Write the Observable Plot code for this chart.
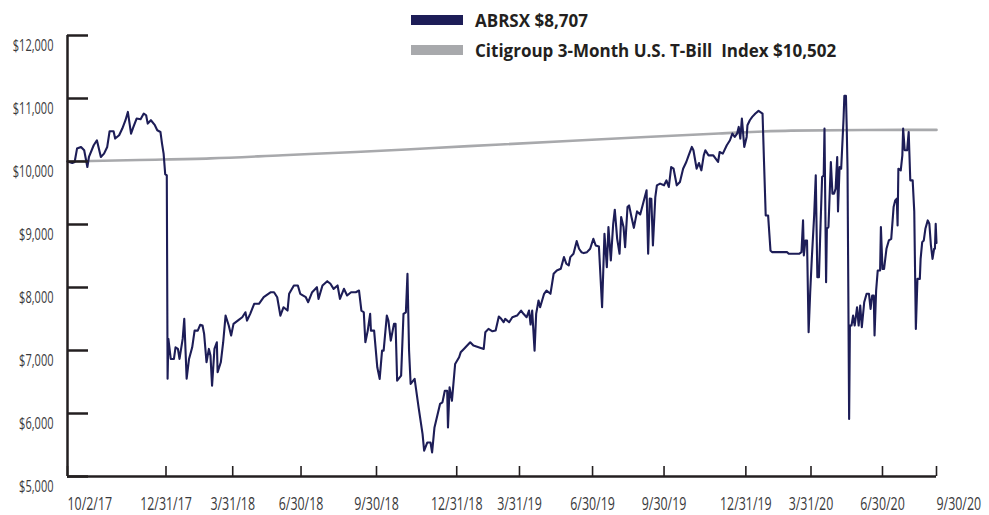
<!DOCTYPE html>
<html>
<head>
<meta charset="utf-8">
<script src="https://cdn.jsdelivr.net/npm/d3@7"></script>
<script src="https://cdn.jsdelivr.net/npm/@observablehq/plot@0.6"></script>
<style>
  html, body { margin: 0; padding: 0; background: #ffffff; }
  #wrap { position: relative; width: 989px; height: 515px; overflow: hidden; }
  #chart { position: absolute; left: 0; top: 0; }
  .legend-item { position: absolute; left: 411px; height: 20px; white-space: pre;
    font-family: "Open Sans", sans-serif; font-weight: 700; font-size: 17px; line-height: 17px; color: #231f20; }
  .legend-item .sw { position: absolute; left: 0; width: 52px; height: 10px; }
  .legend-item .lbl { position: absolute; left: 64px; top: 0; white-space: pre; }
</style>
</head>
<body>
<div id="wrap">
  <div id="chart"></div>
  <div id="legend"></div>
</div>
<script>
// ---------------- data ----------------
const seriesNames = ["ABRSX $8,707", "Citigroup 3-Month U.S. T-Bill  Index $10,502"];
const seriesColors = ["#1d1d57", "#a8a9ac"];

const abrsxDates = [
  "2017-10-02","2017-10-08","2017-10-11","2017-10-14","2017-10-19","2017-10-23","2017-10-27","2017-10-29",
  "2017-11-04","2017-11-08","2017-11-13","2017-11-17","2017-11-21","2017-11-24","2017-11-29","2017-12-01",
  "2017-12-06","2017-12-10","2017-12-14","2017-12-17","2017-12-21","2017-12-24","2017-12-28","2018-01-02",
  "2018-01-06","2018-01-09","2018-01-11","2018-01-15","2018-01-20","2018-01-23","2018-01-27","2018-01-29",
  "2018-01-31","2018-02-02","2018-02-04","2018-02-05","2018-02-06","2018-02-09","2018-02-13","2018-02-15",
  "2018-02-18","2018-02-20","2018-02-24","2018-02-26","2018-03-01","2018-03-04","2018-03-08","2018-03-11",
  "2018-03-15","2018-03-18","2018-03-21","2018-03-23","2018-03-26","2018-03-29","2018-03-31","2018-04-02",
  "2018-04-05","2018-04-08","2018-04-09","2018-04-13","2018-04-16","2018-04-19","2018-04-23","2018-04-26",
  "2018-04-29","2018-05-06","2018-05-10","2018-05-14","2018-05-16","2018-05-20","2018-05-25","2018-05-31",
  "2018-06-06","2018-06-15","2018-06-19","2018-06-23","2018-06-27","2018-07-01","2018-07-06","2018-07-08",
  "2018-07-14","2018-07-19","2018-07-22","2018-07-29","2018-08-01","2018-08-06","2018-08-12","2018-08-14",
  "2018-08-19","2018-08-25","2018-08-29","2018-09-02","2018-09-07","2018-09-10","2018-09-15","2018-09-19",
  "2018-09-24","2018-09-30","2018-10-04","2018-10-07","2018-10-10","2018-10-12","2018-10-15","2018-10-18",
  "2018-10-19","2018-10-23","2018-10-27","2018-10-30","2018-11-02","2018-11-04","2018-11-08","2018-11-10",
  "2018-11-13","2018-11-17","2018-11-19","2018-11-21","2018-11-26","2018-11-29","2018-12-02","2018-12-04",
  "2018-12-06","2018-12-08","2018-12-13","2018-12-18","2018-12-23","2018-12-25","2018-12-29","2019-01-02",
  "2019-01-04","2019-01-07","2019-01-14","2019-01-17","2019-01-20","2019-01-23","2019-01-24","2019-01-26",
  "2019-01-29","2019-02-02","2019-02-07","2019-02-09","2019-02-13","2019-02-21","2019-02-25","2019-03-10",
  "2019-03-12","2019-03-16","2019-03-21","2019-03-25","2019-03-29","2019-04-01","2019-04-04","2019-04-06",
  "2019-04-11","2019-04-15","2019-04-21","2019-04-26","2019-04-29","2019-05-03","2019-05-06","2019-05-08",
  "2019-05-10","2019-05-13","2019-05-15","2019-05-18","2019-05-20","2019-05-25","2019-05-28","2019-06-02",
  "2019-06-06","2019-06-10","2019-06-15","2019-06-19","2019-06-22","2019-06-25","2019-06-27","2019-07-01",
  "2019-07-05","2019-07-08","2019-07-11","2019-07-14","2019-07-18","2019-07-22","2019-07-26","2019-07-29",
  "2019-08-02","2019-08-06","2019-08-09","2019-08-12","2019-08-14","2019-08-17","2019-08-20","2019-08-22",
  "2019-08-25","2019-08-28","2019-08-30","2019-09-02","2019-09-04","2019-09-07","2019-09-09","2019-09-12",
  "2019-09-15","2019-09-19","2019-09-23","2019-10-01","2019-10-03","2019-10-05","2019-10-07","2019-10-09",
  "2019-10-12","2019-10-14","2019-10-18","2019-10-23","2019-10-26","2019-10-29","2019-11-01","2019-11-04",
  "2019-11-08","2019-11-12","2019-11-16","2019-11-20","2019-11-23","2019-11-27","2019-11-29","2019-12-03",
  "2019-12-06","2019-12-09","2019-12-12","2019-12-14","2019-12-18","2019-12-24","2019-12-27","2019-12-30",
  "2020-01-01","2020-01-05","2020-01-10","2020-01-14","2020-01-17","2020-01-20","2020-01-23","2020-01-25",
  "2020-01-27","2020-01-29","2020-02-01","2020-02-04","2020-02-05","2020-02-08","2020-02-11","2020-02-15",
  "2020-02-19","2020-02-24","2020-02-26","2020-02-28","2020-03-02","2020-03-05","2020-03-07","2020-03-26",
  "2020-03-28","2020-04-10","2020-04-13","2020-04-15","2020-04-16","2020-04-18","2020-04-20","2020-04-22",
  "2020-04-24","2020-04-26","2020-04-29","2020-05-01","2020-05-03","2020-05-05","2020-05-07","2020-05-09",
  "2020-05-11","2020-05-12","2020-05-14","2020-05-15","2020-05-17","2020-05-20","2020-05-22","2020-05-24",
  "2020-05-26","2020-05-28","2020-05-29","2020-05-31","2020-06-02","2020-06-05","2020-06-06","2020-06-08",
  "2020-06-09","2020-06-10","2020-06-12","2020-06-13","2020-06-15","2020-06-17","2020-06-19","2020-06-22",
  "2020-06-24","2020-06-26","2020-06-28","2020-07-01","2020-07-04","2020-07-07","2020-07-09","2020-07-11",
  "2020-07-13","2020-07-14","2020-07-16","2020-07-18","2020-07-21","2020-07-22","2020-07-24","2020-07-26",
  "2020-07-29","2020-08-01","2020-08-04","2020-08-07","2020-08-09","2020-08-11","2020-08-12","2020-08-13",
  "2020-08-16","2020-08-18","2020-08-19","2020-08-21","2020-08-24","2020-08-26","2020-08-28","2020-08-31",
  "2020-09-02","2020-09-04","2020-09-06","2020-09-09","2020-09-10","2020-09-12","2020-09-14","2020-09-16",
  "2020-09-19","2020-09-21","2020-09-23","2020-09-25","2020-09-27","2020-09-28","2020-09-29","2020-09-30"
];
const abrsxValues = [
  10000, 9976, 9992,10205,10231,10178, 9913,10072,
  10258,10337,10072,10125,10231,10480,10480,10364,
  10417,10523,10655,10787,10443,10549,10682,10671,
  10761,10734,10602,10655,10576,10496,10469,10284,
  10125, 9800, 9780, 6553, 7184, 6866, 6866, 7051,
   7025, 6866, 7184, 7502, 6553, 6866, 7051, 7316,
   7316, 7407, 7396, 7264, 6813, 7025, 6919, 6442,
   7025, 7131, 6654, 6813, 7131, 7554, 7396, 7237,
   7423, 7490, 7528, 7607, 7475, 7582, 7741, 7741,
   7846, 7925, 7925, 7846, 7554, 7687, 7634, 7900,
   8032, 8032, 7900, 7846, 7767, 7925, 8005, 7820,
   8032, 8100, 8059, 7979, 8032, 7820, 7979, 7873,
   7925, 7925, 7952, 7634, 7607, 7131, 7316, 7582,
   7316, 7316, 6733, 6549, 6998, 6998, 7554, 7475,
   7157, 7423, 7423, 6521, 6601, 7582, 7607, 8218,
   6998, 6469, 6549, 6097, 5674, 5409, 5540, 5540,
   5382, 5779, 6151, 6177, 6362, 6362, 5779, 6415,
   6203, 6786, 6892, 6971, 7025, 7131, 7078, 7025,
   7289, 7343, 7305, 7316, 7539, 7502, 7449, 7502,
   7449, 7528, 7554, 7634, 7582, 7528, 7634, 7412,
   7634, 6998, 7582, 7793, 7687, 7900, 7952, 7900,
   8218, 8270, 8297, 8482, 8377, 8350, 8482, 8535,
   8736, 8615, 8561, 8546, 8561, 8615, 8773, 8667,
   8651, 7687, 8853, 8323, 8959, 8429, 9012, 9235,
   8773, 8535, 9118, 8959, 8641, 9277, 9303, 9118,
   8947, 9208, 9160, 9542, 8535, 9410, 9409, 8667,
   9436, 9622, 9649, 9622, 9701, 9595, 9913, 9886,
   9622, 9675, 9886, 9992,10098,10231,10178, 9886,
   9976, 9860,10098,10178,10098,10098,10045, 9992,
  10151,10125,10258,10337,10443,10390,10443,10549,
  10364,10682,10231,10390,10576,10655,10708,10761,
  10803,10761, 9939, 9144, 9144, 8588, 8561, 8561,
   8535, 8535, 8561, 9065, 8509, 8747, 8747, 7289,
   7925, 8455, 9144, 9780, 8164, 8164, 8985, 9753,
   9780,10523, 8084, 8932, 8959, 9992, 9489, 9489,
   9569,10072, 9208, 9913, 9886,10682,11041,11041,
  10523, 9886, 5912, 7396, 7396, 7554, 7396, 7687,
   7396, 7714, 7369, 7766, 7900, 7900, 7661, 7873,
   7873, 7237, 7952, 8270, 8270, 8959, 8296, 8296,
   8615, 8747, 8773, 9277, 9383, 9410, 8985, 9886,
   9860,10098,10523,10178,10178,10469, 9701, 9701,
   9208, 7343, 8137, 8137, 8455, 8720, 8747, 8932,
   9065, 9012, 8667, 8455, 8615, 8615, 9012, 8707
];

const tbillDates = ["2017-10-02","2017-12-31","2018-03-31","2018-06-30","2018-09-30","2018-12-31",
  "2019-03-31","2019-06-30","2019-09-30","2019-12-31","2020-03-31","2020-06-30","2020-09-30"];
const tbillValues = [10000, 10025, 10050, 10100, 10150, 10210, 10270, 10330, 10390, 10445, 10490, 10500, 10502];

const yTicks = [5000, 6000, 7000, 8000, 9000, 10000, 11000, 12000];
// dates at which the reference chart draws its x-axis ticks, and the labels it prints there
const xTickDates = ["2017-10-02","2018-02-03","2018-04-28","2018-07-23","2018-10-26","2019-02-04",
  "2019-04-24","2019-07-25","2019-10-23","2020-02-03","2020-04-25","2020-07-24","2020-09-30"];
const xTickLabels = ["10/2/17","12/31/17","3/31/18","6/30/18","9/30/18","12/31/18",
  "3/31/19","6/30/19","9/30/19","12/31/19","3/31/20","6/30/20","9/30/20"];

// ---------------- build ----------------
const parse = d3.utcParse("%Y-%m-%d");
const abrsx = abrsxDates.map((d, i) => ({date: parse(d), value: abrsxValues[i]}));
const tbill = tbillDates.map((d, i) => ({date: parse(d), value: tbillValues[i]}));
const ticksX = xTickDates.map(parse);
const labelOf = new Map(ticksX.map((d, i) => [+d, xTickLabels[i]]));
const endTicks = [ticksX[0], ticksX[ticksX.length - 1]];
const midTicks = ticksX.slice(1, -1);
const axisColor = "#231f20";
const labelFont = '"Open Sans", "Noto Sans", sans-serif';

const chart = Plot.plot({
  width: 989,
  height: 515,
  marginLeft: 67,
  marginRight: 53,
  marginTop: 35,
  marginBottom: 39,
  style: {fontFamily: labelFont, fontSize: "16px", color: "#3a3a3c", background: "#ffffff", overflow: "visible"},
  x: {type: "utc", domain: [abrsx[0].date, abrsx[abrsx.length - 1].date]},
  y: {domain: [5000, 12000]},
  marks: [
    Plot.line(tbill, {x: "date", y: "value", stroke: seriesColors[1], strokeWidth: 2.6, curve: "monotone-x"}),
    Plot.line(abrsx, {x: "date", y: "value", stroke: seriesColors[0], strokeWidth: 2.1}),
    Plot.ruleX([abrsx[0].date], {stroke: axisColor, strokeWidth: 2.5}),
    Plot.ruleY([5000], {stroke: axisColor, strokeWidth: 2.5}),
    Plot.axisY({ticks: yTicks, tickSize: -21, tickFormat: () => "", stroke: axisColor, strokeWidth: 2.5, label: null}),
    Plot.axisY({ticks: yTicks, tickSize: 0, tickPadding: 14, dy: 10, tickFormat: d => "$" + d3.format(",")(d), label: null, fontSize: 16}),
    Plot.axisX({ticks: ticksX, tickSize: -10, tickFormat: () => "", stroke: axisColor, strokeWidth: 1.6, label: null}),
    Plot.axisX({ticks: midTicks, tickSize: 0, tickPadding: 21, tickFormat: d => labelOf.get(+d), label: null, fontSize: 18}),
    Plot.axisX({ticks: endTicks, tickSize: 0, tickPadding: 21, textAnchor: "start", tickFormat: d => labelOf.get(+d), label: null, fontSize: 18})
  ]
});
document.getElementById("chart").appendChild(chart);

// the reference uses a condensed face: squeeze the tick labels horizontally about their anchor
function condense(selector, factor) {
  chart.querySelectorAll(selector).forEach(t => {
    if (!t.textContent) return;
    const tr = t.getAttribute("transform") || "";
    t.setAttribute("transform", `${tr} scale(${factor},1)`);
  });
}
condense('g[aria-label="y-axis tick label"] text', 0.69);
condense('g[aria-label="x-axis tick label"] text', 0.69);

// legend (HTML, drawn over the top of the chart)
const legend = document.getElementById("legend");
[[11.5, 15], [41.5, 45]].forEach(([top, swTop], i) => {
  const item = document.createElement("div");
  item.className = "legend-item";
  item.style.top = top + "px";
  const sw = document.createElement("div");
  sw.className = "sw";
  sw.style.background = seriesColors[i];
  sw.style.top = (swTop - top) + "px";
  const lbl = document.createElement("div");
  lbl.className = "lbl";
  lbl.textContent = seriesNames[i];
  item.appendChild(sw);
  item.appendChild(lbl);
  legend.appendChild(item);
});
</script>
</body>
</html>
